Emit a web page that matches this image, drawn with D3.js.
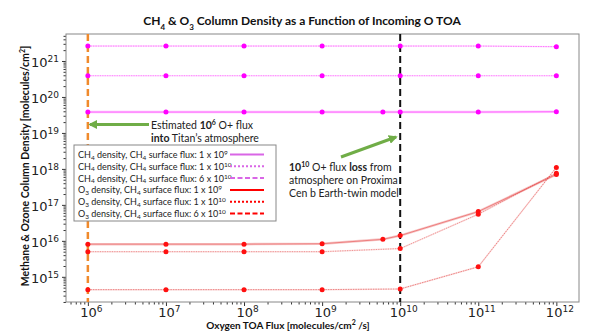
<!DOCTYPE html>
<html>
<head>
<meta charset="utf-8">
<script src="https://cdn.jsdelivr.net/npm/d3@7"></script>
<style>
  body { margin: 0; background: #fff; }
  text { font-family: Lato, "Open Sans", sans-serif; }
  .tick text { font-family: "DejaVu Sans", sans-serif; }
</style>
</head>
<body>
<div id="chart"></div>
<script>
// x values (O flux) and column densities
var fluxAll = [1e6, 1e7, 1e8, 1e9, 6e9, 1e10, 1e11, 1e12];
var fluxNo6 = [1e6, 1e7, 1e8, 1e9, 1e10, 1e11, 1e12];

var ch4_1e9 = [3.8e19, 3.8e19, 3.8e19, 3.8e19, 3.8e19, 3.8e19, 3.8e19, 3.9e19];
var ch4_1e10 = [3.9e20, 3.9e20, 3.9e20, 3.9e20, 3.9e20, 3.9e20, 3.9e20];
var ch4_6e10 = [2.6e21, 2.6e21, 2.6e21, 2.6e21, 2.6e21, 2.6e21, 2.5e21];
var o3_1e9 = [8.1e15, 8.1e15, 8.1e15, 8.3e15, 1.1e16, 1.4e16, 6.5e16, 7.0e17];
var o3_1e10 = [5.0e15, 5.0e15, 5.0e15, 5.0e15, 6.1e15, 5.5e16, 7.6e17];
var o3_6e10 = [4.4e14, 4.4e14, 4.4e14, 4.4e14, 4.6e14, 1.9e15, 1.1e18];

var xTicks = [1e6, 1e7, 1e8, 1e9, 1e10, 1e11, 1e12];
var yTicks = [1e15, 1e16, 1e17, 1e18, 1e19, 1e20, 1e21];

var series = [
  {label: ["CH", "4", " density, CH", "4", " surface flux: 1 x 10", "9"], x: fluxAll, y: ch4_1e9, color: "#ff00ff", legColor: "#d966e6", kind: "solid"},
  {label: ["CH", "4", " density, CH", "4", " surface flux: 1 x 10", "10"], x: fluxNo6, y: ch4_1e10, color: "#ff00ff", legColor: "#d966e6", kind: "dot"},
  {label: ["CH", "4", " density, CH", "4", " surface flux: 6 x 10", "10"], x: fluxNo6, y: ch4_6e10, color: "#ff00ff", legColor: "#d966e6", kind: "dash"},
  {label: ["O", "3", " density, CH", "4", " surface flux: 1 x 10", "9"], x: fluxAll, y: o3_1e9, color: "#e02020", legColor: "#ff0000", kind: "solid"},
  {label: ["O", "3", " density, CH", "4", " surface flux: 1 x 10", "10"], x: fluxNo6, y: o3_1e10, color: "#e02020", legColor: "#ff0000", kind: "dot"},
  {label: ["O", "3", " density, CH", "4", " surface flux: 6 x 10", "10"], x: fluxNo6, y: o3_6e10, color: "#e02020", legColor: "#ff0000", kind: "dash"}
];

var W = 598, H = 331;
var margin = {top: 34, right: 19, bottom: 29, left: 66},
    width = W - margin.left - margin.right,
    height = H - margin.top - margin.bottom;

var svg = d3.select("#chart").append("svg")
    .attr("width", W).attr("height", H);
var g = svg.append("g")
    .attr("transform", "translate(" + margin.left + "," + margin.top + ")");

var x = d3.scaleLog().domain([Math.pow(10, 5.72), Math.pow(10, 12.29)]).range([0, width]);
var y = d3.scaleLog().domain([Math.pow(10, 14.3), Math.pow(10, 21.75)]).range([height, 0]);

// minor ticks
var xMinor = [], yMinor = [];
for (var e = 5; e <= 12; e++) for (var k = 2; k <= 9; k++) {
  var v = k * Math.pow(10, e);
  if (v > x.domain()[0] && v < x.domain()[1]) xMinor.push(v);
}
for (var e = 14; e <= 21; e++) for (var k = 2; k <= 9; k++) {
  var v = k * Math.pow(10, e);
  if (v > y.domain()[0] && v < y.domain()[1]) yMinor.push(v);
}

function powLabel(sel) {
  sel.each(function(d) {
    var t = d3.select(this).text(null);
    t.append("tspan").text("10");
    t.append("tspan").text(Math.round(Math.log10(d)))
      .attr("font-size", 9).attr("dy", "-0.55em");
  });
}

g.append("g").attr("transform", "translate(0," + height + ")")
  .call(d3.axisBottom(x).tickValues(xMinor).tickSize(2.5).tickFormat(""))
  .call(function(s) { s.select(".domain").remove(); s.selectAll("line").attr("stroke", "#333"); });
g.append("g")
  .call(d3.axisLeft(y).tickValues(yMinor).tickSize(2.5).tickFormat(""))
  .call(function(s) { s.select(".domain").remove(); s.selectAll("line").attr("stroke", "#333"); });

g.append("g").attr("transform", "translate(0," + height + ")")
  .call(d3.axisBottom(x).tickValues(xTicks).tickSize(4).tickPadding(3).tickFormat(function() { return ""; }))
  .call(function(s) {
    s.select(".domain").remove();
    s.selectAll("line").attr("stroke", "#333");
    s.selectAll("text").attr("font-size", 13).attr("fill", "#222")
      .attr("dy", null).attr("y", 14.5).attr("dx", 3).call(powLabel);
  });
g.append("g")
  .call(d3.axisLeft(y).tickValues(yTicks).tickSize(4).tickPadding(3).tickFormat(function() { return ""; }))
  .call(function(s) {
    s.select(".domain").remove();
    s.selectAll("line").attr("stroke", "#333");
    s.selectAll("text").attr("font-size", 13).attr("fill", "#222")
      .attr("dy", "0.45em").call(powLabel);
  });

// frame
g.append("rect").attr("width", width).attr("height", height)
  .attr("fill", "none").attr("stroke", "#888").attr("stroke-width", 1);

// vertical reference lines
g.append("line")
  .attr("x1", x(1e6)).attr("x2", x(1e6)).attr("y1", 0).attr("y2", height)
  .attr("stroke", "#f08a2c").attr("stroke-width", 2.5).attr("stroke-dasharray", "7,4");
g.append("line")
  .attr("x1", x(1e10)).attr("x2", x(1e10)).attr("y1", 0).attr("y2", height)
  .attr("stroke", "#111").attr("stroke-width", 2).attr("stroke-dasharray", "7,4");

// series
var line = d3.line().x(function(d) { return x(d[0]); }).y(function(d) { return y(d[1]); });
series.forEach(function(s) {
  var pts = s.x.map(function(v, i) { return [v, s.y[i]]; });
  if (s.kind === "solid") {
    g.append("path").attr("d", line(pts)).attr("fill", "none")
      .attr("stroke", s.color).attr("stroke-opacity", 0.25).attr("stroke-width", 2.5);
    g.append("path").attr("d", line(pts)).attr("fill", "none")
      .attr("stroke", s.color).attr("stroke-opacity", 0.55).attr("stroke-width", 0.8);
  } else {
    g.append("path").attr("d", line(pts)).attr("fill", "none")
      .attr("stroke", s.color).attr("stroke-opacity", 0.15).attr("stroke-width", 1.5);
    g.append("path").attr("d", line(pts)).attr("fill", "none")
      .attr("stroke", s.color).attr("stroke-opacity", s.kind === "dot" ? 0.5 : 0.6).attr("stroke-width", 0.8)
      .attr("stroke-dasharray", s.kind === "dot" ? "1.2,1.2" : "1.5,1");
  }
  g.selectAll(null).data(pts).enter().append("circle")
    .attr("cx", function(d) { return x(d[0]); })
    .attr("cy", function(d) { return y(d[1]); })
    .attr("r", 2.5)
    .attr("fill", s.color === "#ff00ff" ? "#ff00ff" : "#ff1010");
});

// arrows
var defs = svg.append("defs");
defs.append("marker").attr("id", "arr").attr("viewBox", "0 0 10 10")
  .attr("refX", 8).attr("refY", 5).attr("markerWidth", 3).attr("markerHeight", 3)
  .attr("orient", "auto")
  .append("path").attr("d", "M0,0 L10,5 L0,10 Z").attr("fill", "#70ad47");

svg.append("line").attr("x1", 149).attr("y1", 124.5).attr("x2", 90).attr("y2", 124.5)
  .attr("stroke", "#70ad47").attr("stroke-width", 3).attr("marker-end", "url(#arr)");
svg.append("line").attr("x1", 341).attr("y1", 157).attr("x2", 396).attr("y2", 137)
  .attr("stroke", "#70ad47").attr("stroke-width", 3).attr("marker-end", "url(#arr)");

// annotations
function richText(parent, xx, yy, parts) {
  var t = parent.append("text").attr("x", xx).attr("y", yy).attr("font-size", 10.5).attr("fill", "#222");
  parts.forEach(function(p) {
    var ts = t.append("tspan").text(p.t);
    if (p.b) ts.attr("font-weight", "bold");
    if (p.sup) ts.attr("baseline-shift", "super").attr("font-size", 7);
  });
  return t;
}
richText(svg, 151, 129, [{t: "Estimated "}, {t: "10", b: true}, {t: "6", b: true, sup: true}, {t: " O+ flux"}]);
richText(svg, 151, 141.5, [{t: "into", b: true}, {t: " Titan\u2019s atmosphere"}]);
richText(svg, 289, 171, [{t: "10", b: true}, {t: "10", b: true, sup: true}, {t: " O+ flux "}, {t: "loss", b: true}, {t: " from"}]);
richText(svg, 289, 184, [{t: "atmosphere on Proxima"}]);
richText(svg, 289, 197, [{t: "Cen b Earth-twin model"}]);

// legend
var leg = svg.append("g").attr("transform", "translate(74,145)");
leg.append("rect").attr("width", 202).attr("height", 76)
  .attr("fill", "#fff").attr("stroke", "#888").attr("stroke-width", 1);
series.forEach(function(s, i) {
  var yy = 9.5 + i * 11.8;
  var t = leg.append("text").attr("x", 4).attr("y", yy + 3.5).attr("font-size", 9).attr("fill", "#222");
  var shift = 0;
  s.label.forEach(function(p, j) {
    var ts = t.append("tspan").text(p);
    var target = (j === 1 || j === 3) ? 1.5 : (j === 5 ? -3 : 0);
    if (target !== shift) { ts.attr("dy", target - shift); shift = target; }
    if (j === 1 || j === 3 || j === 5) ts.attr("font-size", 6.5);
  });
  var ls = leg.append("line").attr("x1", 156).attr("x2", 190).attr("y1", yy).attr("y2", yy)
    .attr("stroke", s.legColor).attr("stroke-width", 2);
  if (s.kind === "dot") ls.attr("stroke-dasharray", "2,2");
  if (s.kind === "dash") ls.attr("stroke-dasharray", "5,2.5");
});

// title and axis labels
var title = svg.append("text").attr("x", 302).attr("y", 25).attr("text-anchor", "middle")
  .attr("font-size", 12).attr("font-weight", "bold").attr("fill", "#111");
title.append("tspan").text("CH");
title.append("tspan").text("4").attr("baseline-shift", "sub").attr("font-size", 8);
title.append("tspan").text(" & O");
title.append("tspan").text("3").attr("baseline-shift", "sub").attr("font-size", 8);
title.append("tspan").text(" Column Density as a Function of Incoming O TOA");

var xl = svg.append("text").attr("x", 288).attr("y", 329).attr("text-anchor", "middle")
  .attr("font-size", 10).attr("font-weight", "bold").attr("fill", "#111");
xl.append("tspan").text("Oxygen TOA Flux [molecules/cm");
xl.append("tspan").text("2").attr("baseline-shift", "super").attr("font-size", 7);
xl.append("tspan").text(" /s]");

var yl = svg.append("text").attr("transform", "translate(29,166) rotate(-90)")
  .attr("text-anchor", "middle")
  .attr("font-size", 10.5).attr("font-weight", "bold").attr("fill", "#111");
yl.append("tspan").text("Methane & Ozone Column Density [molecules/cm");
yl.append("tspan").text("2").attr("baseline-shift", "super").attr("font-size", 7);
yl.append("tspan").text("]");
</script>
</body>
</html>
